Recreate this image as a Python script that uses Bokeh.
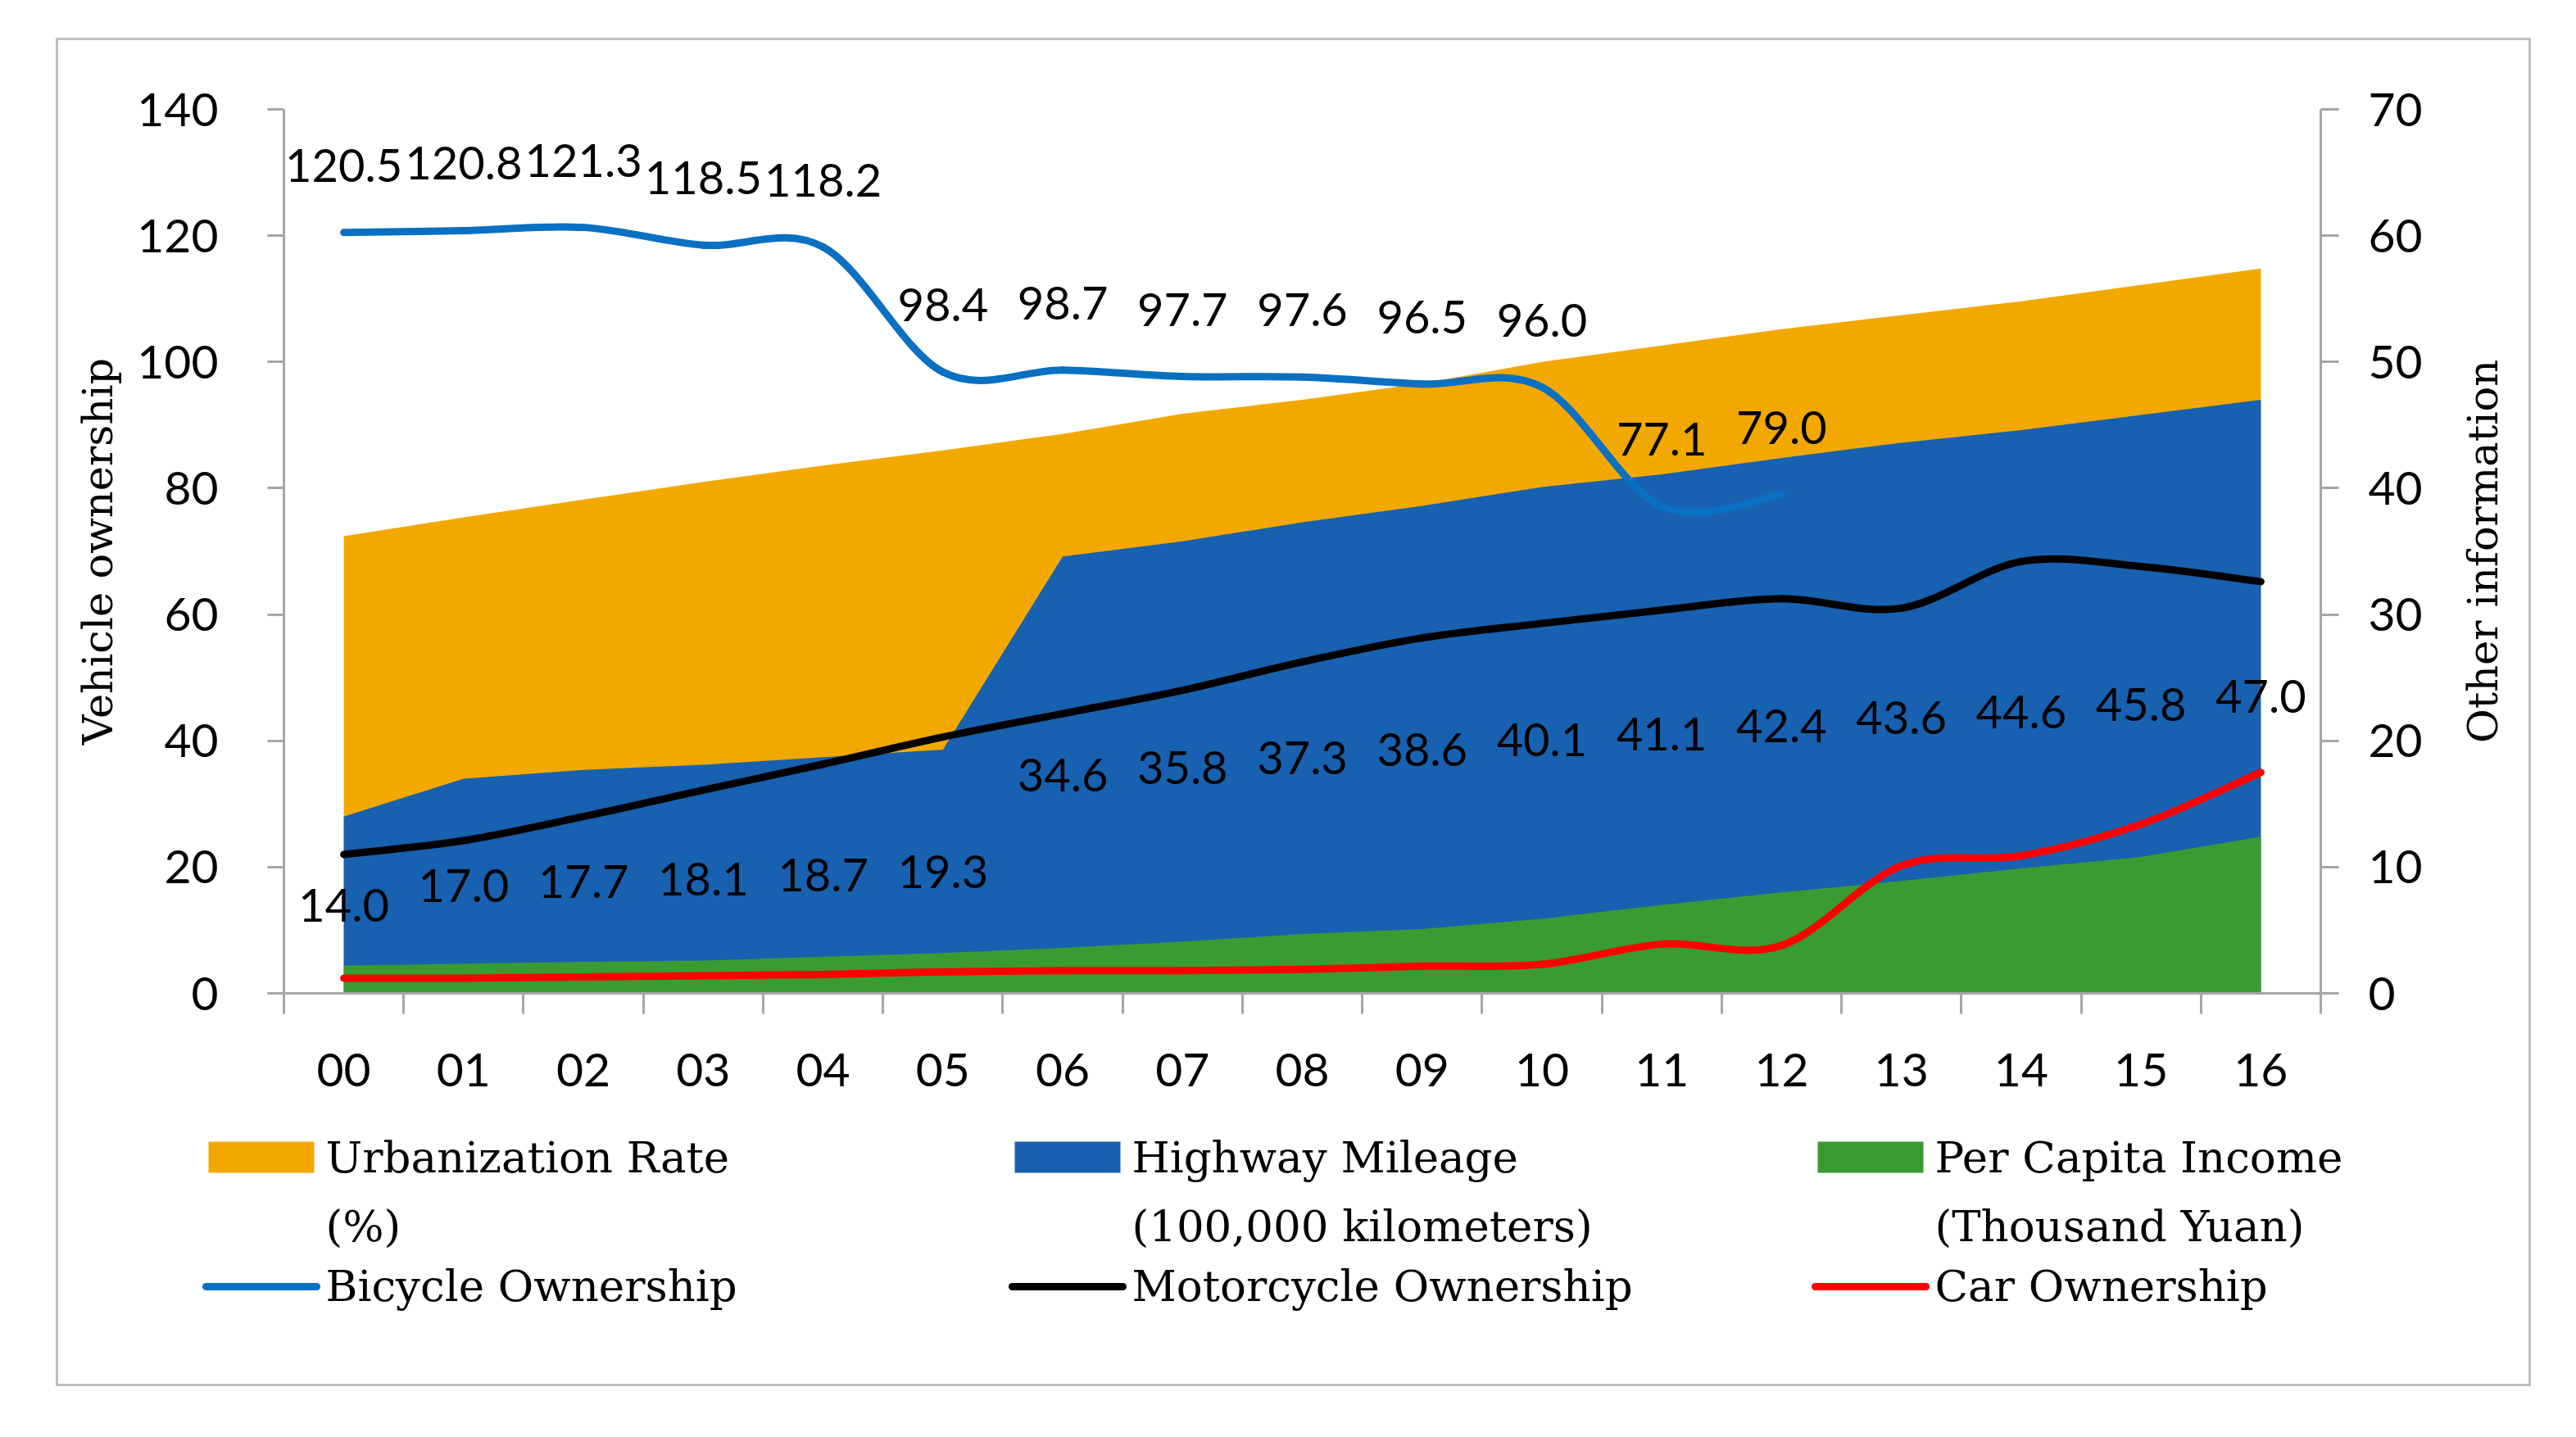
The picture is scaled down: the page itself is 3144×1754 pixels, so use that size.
import math
from bokeh.plotting import figure
from bokeh.models import Range1d, LinearAxis, FixedTicker, ColumnDataSource
from bokeh.layouts import column, row
from bokeh.core.properties import value
from bokeh.embed import file_html
from bokeh.resources import INLINE

# ---------------- data ----------------
years = ["00", "01", "02", "03", "04", "05", "06", "07", "08",
         "09", "10", "11", "12", "13", "14", "15", "16"]
# right axis (Other information)
urbanization = [36.2, 37.7, 39.1, 40.5, 41.8, 43.0, 44.3, 45.9, 47.0,
                48.3, 50.0, 51.3, 52.6, 53.7, 54.8, 56.1, 57.4]
highway = [14.0, 17.0, 17.7, 18.1, 18.7, 19.3, 34.6, 35.8, 37.3,
           38.6, 40.1, 41.1, 42.4, 43.6, 44.6, 45.8, 47.0]
income = [2.2, 2.35, 2.5, 2.6, 2.9, 3.2, 3.6, 4.1, 4.7,
          5.1, 5.9, 7.0, 8.0, 8.9, 9.9, 10.8, 12.4]
# left axis (Vehicle ownership)
bicycle = [120.5, 120.8, 121.3, 118.5, 118.2, 98.4, 98.7, 97.7, 97.6,
           96.5, 96.0, 77.1, 79.0]
motorcycle = [22.0, 24.2, 28.0, 32.2, 36.3, 40.6, 44.3, 48.0, 52.5,
              56.3, 58.6, 60.7, 62.5, 61.0, 68.4, 67.6, 65.2]
car = [2.4, 2.4, 2.6, 2.8, 3.0, 3.4, 3.6, 3.6, 3.8,
       4.3, 4.6, 7.8, 7.6, 20.2, 21.8, 26.8, 35.0]

left_title = "Vehicle ownership"
right_title = "Other information"
legend_row1 = ["Urbanization Rate", "Highway Mileage", "Per Capita Income"]
legend_row2 = ["(%)", "(100,000 kilometers)", "(Thousand Yuan)"]
legend_row3 = ["Bicycle Ownership", "Motorcycle Ownership", "Car Ownership"]

ORANGE = "#F3A800"
BLUE = "#1761B0"
GREEN = "#3A9B32"
BIKE = "#0A70C2"
BLACK = "#000000"
RED = "#FF0000"
AXIS = "#A6A6A6"

xs = list(range(len(years)))


def smooth(xv, yv):
    n = len(xv)
    d = dict(x0=[], y0=[], x1=[], y1=[], cx0=[], cy0=[], cx1=[], cy1=[])
    for i in range(n - 1):
        a = i - 1 if i > 0 else i
        b = i + 2 if i + 2 < n else i + 1
        d["x0"].append(xv[i]); d["y0"].append(yv[i])
        d["x1"].append(xv[i + 1]); d["y1"].append(yv[i + 1])
        d["cx0"].append(xv[i] + (xv[i + 1] - xv[a]) / 6)
        d["cy0"].append(yv[i] + (yv[i + 1] - yv[a]) / 6)
        d["cx1"].append(xv[i + 1] - (xv[b] - xv[i]) / 6)
        d["cy1"].append(yv[i + 1] - (yv[b] - yv[i]) / 6)
    return ColumnDataSource(d)


W = 3015
RW = 100          # strip holding the right-hand axis title
H = 1307
TOP, BOT = 84, 144
p = figure(width=W - RW, height=H, x_range=Range1d(-0.5, 16.5), y_range=Range1d(0, 140),
           output_backend="svg", toolbar_location=None,
           min_border_left=275, min_border_right=254 - RW, min_border_top=TOP, min_border_bottom=BOT)
p.extra_y_ranges = {"right": Range1d(0, 70)}
p.xgrid.visible = False
p.ygrid.visible = False
p.outline_line_color = None
p.background_fill_color = "white"
p.border_fill_color = "white"

p.varea(x=xs, y1=0, y2=urbanization, fill_color=ORANGE, y_range_name="right")
p.varea(x=xs, y1=0, y2=highway, fill_color=BLUE, y_range_name="right")
p.varea(x=xs, y1=0, y2=income, fill_color=GREEN, y_range_name="right")

for vals, col in ((bicycle, BIKE), (motorcycle, BLACK), (car, RED)):
    src = smooth(xs[:len(vals)], vals)
    p.bezier(x0="x0", y0="y0", x1="x1", y1="y1", cx0="cx0", cy0="cy0", cx1="cx1", cy1="cy1",
             source=src, line_color=col, line_width=9, line_cap="round")

LBL_FONT = value("Lato")
p.text(x=xs[:len(bicycle)], y=bicycle, text=[f"{v:.1f}" for v in bicycle],
       y_offset=-82, text_align="center", text_baseline="middle",
       text_font=LBL_FONT, text_font_size="56px", text_color="black")
p.text(x=xs, y=highway, text=[f"{v:.1f}" for v in highway],
       text_align="center", text_baseline="middle",
       text_font=LBL_FONT, text_font_size="56px", text_color="black")

# axes
xa = p.xaxis[0]
xa.ticker = FixedTicker(ticks=xs, minor_ticks=[i - 0.5 for i in range(len(years) + 1)])
xa.major_label_overrides = {i: years[i] for i in xs}
xa.major_tick_line_color = None
xa.major_tick_out = 0
xa.major_tick_in = 0
xa.minor_tick_line_color = AXIS
xa.minor_tick_line_width = 3
xa.minor_tick_out = 25
xa.minor_tick_in = 0
xa.axis_line_color = AXIS
xa.axis_line_width = 3
xa.major_label_text_font = "Lato"
xa.major_label_text_font_size = "57px"
xa.major_label_text_color = "black"
xa.major_label_standoff = 48

ya = p.yaxis[0]
ya.ticker = FixedTicker(ticks=list(range(0, 141, 20)))
ya.axis_line_color = AXIS
ya.axis_line_width = 3
ya.major_tick_line_color = AXIS
ya.major_tick_line_width = 3
ya.major_tick_out = 20
ya.major_tick_in = 0
ya.minor_tick_line_color = None
ya.major_label_text_font = "Lato"
ya.major_label_text_font_size = "57px"
ya.major_label_text_color = "black"
ya.major_label_standoff = 60
ya.axis_label = left_title
ya.axis_label_text_font = "DejaVu Serif"
ya.axis_label_text_font_size = "51px"
ya.axis_label_text_font_style = "normal"
ya.axis_label_text_color = "black"
ya.axis_label_standoff = 15

ra = LinearAxis(y_range_name="right", ticker=FixedTicker(ticks=list(range(0, 71, 10))))
ra.axis_line_color = AXIS
ra.axis_line_width = 3
ra.major_tick_line_color = AXIS
ra.major_tick_line_width = 3
ra.major_tick_out = 22
ra.major_tick_in = 0
ra.minor_tick_line_color = None
ra.major_label_text_font = "Lato"
ra.major_label_text_font_size = "57px"
ra.major_label_text_color = "black"
ra.major_label_standoff = 36
p.add_layout(ra, "right")

# right-hand title strip (reads bottom-to-top like the reference)
rf = figure(width=RW, height=H, x_range=Range1d(0, RW), y_range=Range1d(0, 1),
            output_backend="svg", toolbar_location=None,
            min_border_left=0, min_border_right=0, min_border_top=TOP, min_border_bottom=BOT,
            x_axis_location=None, y_axis_location=None)
rf.xgrid.visible = False
rf.ygrid.visible = False
rf.outline_line_color = None
rf.border_fill_color = "white"
rf.text(x=[44], y=[0.5], text=[right_title], angle=math.pi / 2,
        text_align="center", text_baseline="middle",
        text_font=value("DejaVu Serif"), text_font_size="51px", text_color="black")

# ---------------- legend ----------------
LH = 333
lg = figure(width=W, height=LH, x_range=Range1d(0, W), y_range=Range1d(LH, 0),
            output_backend="svg", toolbar_location=None, min_border=0,
            x_axis_location=None, y_axis_location=None)
lg.xgrid.visible = False
lg.ygrid.visible = False
lg.outline_line_color = None
lg.border_fill_color = "white"

col_left = [183, 1167, 2147]
sw = 129
lg.quad(left=col_left, right=[c + sw for c in col_left], top=[37] * 3, bottom=[75] * 3,
        fill_color=[ORANGE, BLUE, GREEN], line_color=None)
for c, colr in zip(col_left, [BIKE, BLACK, RED]):
    lg.line(x=[c - 3, c + sw + 3], y=[214, 214], line_color=colr, line_width=9, line_cap="round")
tx = [c + sw + 14 for c in col_left]
LEG_FONT = value("DejaVu Serif")
for rowtxt, yy in ((legend_row1, 56), (legend_row2, 140), (legend_row3, 213)):
    lg.text(x=tx, y=[yy] * 3, text=rowtxt, text_align="left", text_baseline="middle",
            text_font=LEG_FONT, text_font_size="53px", text_color="black")

layout = column(row(p, rf), row(lg), margin=(46, 0, 0, 68),
                styles={"border": "3px solid #BFBFBF", "background-color": "white"})

open("out.html", "w").write(file_html(layout, INLINE))
